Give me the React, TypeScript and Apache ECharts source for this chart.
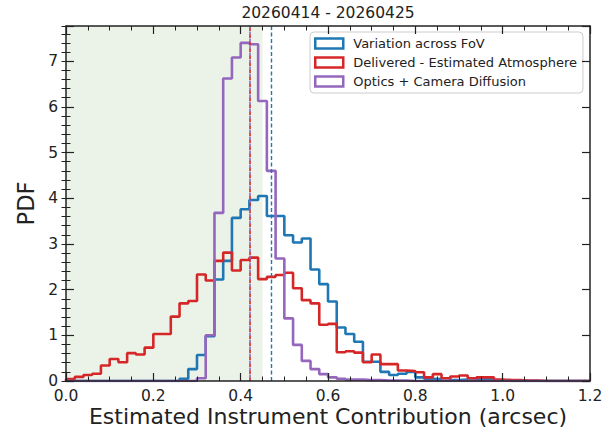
import React, { useEffect, useRef } from "react";
import * as echarts from "echarts";

// ---- data ----
const TITLE = "20260414 - 20260425";
const X_LABEL = "Estimated Instrument Contribution (arcsec)";
const Y_LABEL = "PDF";
const SERIES_NAMES = ["Variation across FoV", "Delivered - Estimated Atmosphere", "Optics + Camera Diffusion"];
const SERIES_COLORS = ["#1f77b4", "#d62728", "#9467bd"];
const BIN_START = 0;
const BIN_WIDTH = 0.02;

const variationFoV = [
  0, 0, 0, 0, 0, 0, 0, 0, 0, 0,
  0, 0, 0, 0.05, 0.26, 0.57, 0.98, 2.22, 2.63, 3.57,
  3.76, 3.96, 4.05, 3.61, 3.61, 3.19, 3.03, 3.12, 2.44, 2.12,
  1.74, 1.17, 1.03, 0.86, 0.42, 0.42, 0.2, 0.13, 0.16, 0.2,
  0.08, 0.05, 0.04, 0.06, 0.02, 0.03, 0.01, 0.04, 0.04, 0.01,
  0.02, 0, 0, 0, 0, 0, 0, 0, 0, 0,
];
const deliveredMinusAtm = [
  0.04, 0.09, 0.13, 0.16, 0.34, 0.48, 0.41, 0.61, 0.58, 0.73,
  1.03, 1.03, 1.41, 1.7, 1.75, 2.33, 2.2, 2.63, 2.81, 2.42,
  2.65, 2.7, 2.23, 2.28, 2.32, 2.37, 2.03, 1.77, 1.7, 1.23,
  1.25, 0.63, 0.65, 0.62, 0.41, 0.58, 0.37, 0.37, 0.23, 0.22,
  0.19, 0.08, 0.15, 0.06, 0.1, 0.12, 0.06, 0.08, 0.08, 0.03,
  0.02, 0.02, 0.01, 0.01, 0, 0, 0, 0, 0, 0,
];
const opticsCamera = [
  0, 0, 0, 0, 0, 0, 0, 0, 0, 0,
  0, 0, 0, 0, 0, 0.06, 1.0, 3.68, 6.62, 7.08,
  7.4, 7.37, 6.13, 4.6, 2.68, 1.37, 0.79, 0.44, 0.26, 0.15,
  0.08, 0.05, 0.03, 0.03, 0.02, 0.02, 0.01, 0.01, 0.01, 0,
  0, 0, 0, 0, 0, 0, 0, 0, 0, 0,
  0, 0, 0, 0, 0, 0, 0, 0, 0, 0,
];
const medians = [0.475, 0.416, 0.416];
const shadedRange = [0, 0.45];
const X_MIN = 0;
const X_MAX = 1.2;
const X_INTERVAL = 0.2;
const Y_MIN = 0;
const Y_MAX = 7.77;
const Y_INTERVAL = 1;
const Y_MINOR = 0.2;

const FONT = "DejaVu Sans";
const INK = "#222222";

function toSteps(values: number[]): number[][] {
  const pts: number[][] = [[BIN_START, 0]];
  values.forEach((v, i) => pts.push([+(BIN_START + i * BIN_WIDTH).toFixed(4), v]));
  pts.push([+(BIN_START + values.length * BIN_WIDTH).toFixed(4), 0]);
  return pts;
}

export default function App() {
  const ref = useRef<HTMLDivElement>(null);
  useEffect(() => {
    document.body.style.margin = "0";
    if (!ref.current) return;
    const chart = echarts.init(ref.current, undefined, { renderer: "svg" });
    const axisLine = { show: true, onZero: false, lineStyle: { color: INK, width: 1.5 } };
    const majorTick = { show: true, inside: true, length: 8, lineStyle: { color: INK, width: 1.2 } };
    const minorTickX = { show: true, splitNumber: 4, length: 4.5, lineStyle: { color: INK, width: 1 } };
    const xBase = {
      type: "value",
      min: X_MIN,
      max: X_MAX,
      interval: X_INTERVAL,
      splitLine: { show: false },
      axisLine,
      axisTick: majorTick,
      minorTick: minorTickX,
      z: 5,
    };
    const yBase = {
      type: "value",
      min: Y_MIN,
      max: Y_MAX,
      splitLine: { show: false },
      z: 5,
    };
    const seriesData = [variationFoV, deliveredMinusAtm, opticsCamera];
    const dashes = [
      { type: [4, 2.5], dashOffset: 0, width: 1.4 },
      { type: [3.5, 3.5], dashOffset: 0, width: 1.6 },
      { type: [3.5, 3.5], dashOffset: 3.5, width: 1.6 },
    ];
    const option: any = {
      animation: false,
      backgroundColor: "#ffffff",
      title: {
        text: TITLE,
        left: 328,
        textAlign: "center",
        top: 5,
        padding: 0,
        textStyle: { fontFamily: FONT, fontSize: 15.5, fontWeight: "normal", color: INK },
      },
      grid: { left: 66, right: 17, top: 26, bottom: 50, containLabel: false, outerBoundsMode: "none" },
      legend: {
        orient: "vertical",
        left: 310,
        top: 32,
        padding: [4, 6, 4, 4],
        itemWidth: 28,
        itemHeight: 10,
        itemGap: 4,
        backgroundColor: "rgba(255,255,255,0.85)",
        borderColor: "#cccccc",
        borderWidth: 1,
        borderRadius: 4,
        textStyle: {
          fontFamily: FONT,
          fontSize: 13,
          color: INK,
          lineHeight: 15,
          padding: [0, 0, 0, 5],
        },
        data: SERIES_NAMES.map((n, i) => ({
          name: n,
          icon: "rect",
          itemStyle: { color: "rgba(255,255,255,0)", borderColor: SERIES_COLORS[i], borderWidth: 2.5 },
        })),
      },
      xAxis: [
        {
          ...xBase,
          position: "bottom",
          axisLabel: {
            show: true,
            margin: 7,
            fontFamily: FONT,
            fontSize: 15.5,
            color: INK,
            formatter: (v: number) => v.toFixed(1),
          },
          name: X_LABEL,
          nameLocation: "middle",
          nameGap: 23,
          nameMoveOverlap: false,
          nameTextStyle: { fontFamily: FONT, fontSize: 22, color: INK, lineHeight: 24 },
        },
        { ...xBase, position: "top", axisLabel: { show: false } },
      ],
      yAxis: [
        {
          ...yBase,
          position: "left",
          interval: Y_INTERVAL,
          axisLine,
          axisTick: majorTick,
          axisLabel: {
            show: true,
            margin: 8,
            fontFamily: FONT,
            fontSize: 15.5,
            color: INK,
            formatter: (v: number) => (Math.abs(v - Math.round(v)) < 1e-6 ? String(Math.round(v)) : ""),
          },
          name: Y_LABEL,
          nameLocation: "middle",
          nameGap: 22,
          nameTextStyle: { fontFamily: FONT, fontSize: 22.5, color: INK },
        },
        {
          ...yBase,
          position: "left",
          interval: Y_MINOR,
          axisLine: { show: false },
          axisTick: { show: true, inside: true, length: 4.5, lineStyle: { color: INK, width: 1 } },
          axisLabel: { show: false },
        },
        {
          ...yBase,
          position: "right",
          interval: Y_INTERVAL,
          axisLine,
          axisTick: majorTick,
          axisLabel: { show: false },
        },
        {
          ...yBase,
          position: "right",
          interval: Y_MINOR,
          axisLine: { show: false },
          axisTick: { show: true, inside: true, length: 4.5, lineStyle: { color: INK, width: 1 } },
          axisLabel: { show: false },
        },
      ],
      series: [
        {
          type: "line",
          name: "__shade",
          data: [],
          z: 1,
          silent: true,
          markArea: {
            silent: true,
            itemStyle: { color: "#ebf3e9" },
            data: [[{ xAxis: shadedRange[0] }, { xAxis: shadedRange[1] }]],
          },
        },
        ...SERIES_NAMES.map((n, i) => ({
          type: "line",
          name: n,
          step: "end",
          data: toSteps(seriesData[i]),
          showSymbol: false,
          symbol: "none",
          z: 3,
          color: SERIES_COLORS[i],
          lineStyle: { color: SERIES_COLORS[i], width: 2.6 },
          markLine: {
            silent: true,
            symbol: ["none", "none"],
            label: { show: false },
            lineStyle: {
              color: SERIES_COLORS[i],
              width: dashes[i].width,
              type: dashes[i].type,
              dashOffset: dashes[i].dashOffset,
            },
            data: [{ xAxis: medians[i] }],
          },
        })),
      ],
    };
    chart.setOption(option);
    return () => chart.dispose();
  }, []);
  return <div ref={ref} style={{ width: 607, height: 431 }} />;
}
